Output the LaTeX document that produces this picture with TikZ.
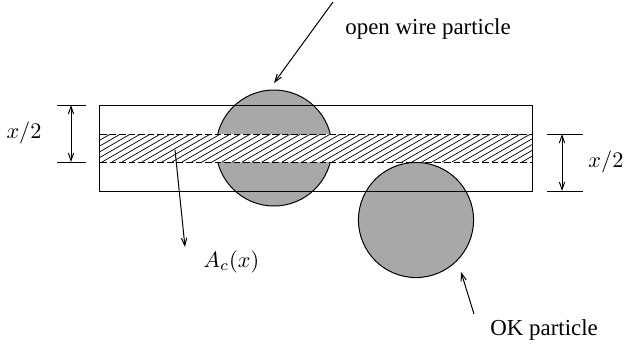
\documentclass[tikz,border=0pt]{standalone}
\usepackage{fontspec}
\setmainfont{Liberation Serif}
\usetikzlibrary{arrows.meta}
\definecolor{partgray}{RGB}{168,168,168}
\begin{document}
\begin{tikzpicture}[x=0.45pt,y=-0.45pt,
  thin line/.style={line width=0.45pt},
  particle/.style={circle, draw=black, fill=partgray, line width=0.45pt, inner sep=0pt},
  hatchline/.style={line width=0.32pt},
  bandedge/.style={line width=0.45pt, dash pattern=on 3pt off 1.3pt},
  tip/.tip={Straight Barb[length=3.4pt,width=2.4pt]},
  arr/.style={-tip, line width=0.45pt},
  dimarr/.style={tip-tip, line width=0.45pt},
  lbl/.style={inner sep=0pt, font=\fontsize{10.3}{12}\selectfont}]
\useasboundingbox (0,0) rectangle (624,345);

% particles
\node[particle, minimum size=52.2pt] (p1) at (274,148) {};
\node[particle, minimum size=51.8pt] (p2) at (416,220) {};

% hatched band
\fill[white] (100,134) rectangle (532,162);
\begin{scope}
  \clip (100,134) rectangle (532,162);
  \foreach \i in {0,...,48} {
    \draw[hatchline] (52+\i*10,162) -- ++(48.5,-28);
  }
\end{scope}
\draw[bandedge] (100,134) -- (532,134);
\draw[bandedge] (100,162) -- (532,162);

% wire outline
\node[draw, thin line, inner sep=0pt, minimum width=194.4pt, minimum height=38.7pt] (wire) at (316,148) {};

% left dimension
\coordinate (la) at (57,105);  \coordinate (lb) at (86,105);
\coordinate (lc) at (57,162);  \coordinate (ld) at (86,162);
\draw[thin line] (la) -- (lb);
\draw[thin line] (lc) -- (ld);
\coordinate (lt) at (71,105); \coordinate (lbt) at (71,162);
\draw[dimarr] (lt) -- (lbt);
\node[lbl] (lx) at (24,133) {$x/2$};

% right dimension
\coordinate (ra) at (547,134); \coordinate (rb) at (583,134);
\coordinate (rc) at (547,191); \coordinate (rd) at (583,191);
\draw[thin line] (ra) -- (rb);
\draw[thin line] (rc) -- (rd);
\coordinate (rt) at (562,134); \coordinate (rbt) at (562,191);
\draw[dimarr] (rt) -- (rbt);
\node[lbl, anchor=west] (rx) at (588,162) {$x/2$};

% labels and pointers
\node[lbl, anchor=base west] (open) at (345,34) {open wire particle};
\coordinate (ow0) at (333,2); \coordinate (ow1) at (274,83);
\draw[arr] (ow0) -- (ow1);

\node[lbl, anchor=base west] (ac) at (203,267) {$A_c(x)$};
\coordinate (ac0) at (175,150); \coordinate (ac1) at (185,247);
\draw[arr] (ac0) -- (ac1);

\node[lbl, anchor=base west] (ok) at (490,335) {OK particle};
\coordinate (ok0) at (474,314); \coordinate (ok1) at (461,272);
\draw[arr] (ok0) -- (ok1);
\end{tikzpicture}
\end{document}
